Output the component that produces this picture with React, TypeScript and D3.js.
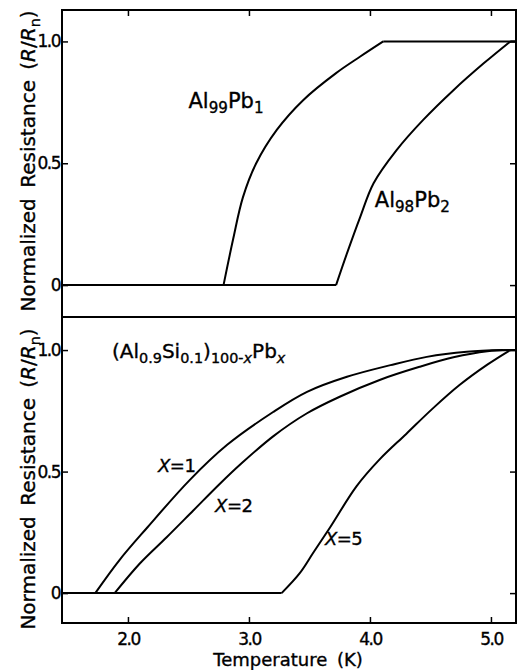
import React, { useEffect, useRef } from "react";
import * as d3 from "d3";

// frame extent in kelvin and tick values
const tempDomain = [1.455, 5.207];
const tempTicks = [2, 3, 4, 5];
const resTicks = [0, 0.5, 1];

// upper panel: Al99Pb1 and Al98Pb2
const al99Temp = [1.455, 2.79, 2.87, 2.95, 3.06, 3.23, 3.45, 3.72, 3.92, 4.11, 5.207];
const al99Res = [0, 0, 0.19, 0.36, 0.5, 0.637, 0.76, 0.87, 0.938, 1, 1];
const al98Temp = [1.455, 3.72, 3.81, 3.92, 4.03, 4.22, 4.44, 4.69, 4.94, 5.16, 5.207];
const al98Res = [0, 0, 0.13, 0.28, 0.418, 0.554, 0.678, 0.8, 0.91, 1, 1];

// lower panel: (Al0.9Si0.1)100-xPbx, x = 1, 2, 5
const x1Temp = [1.455, 1.73, 1.93, 2.16, 2.51, 2.82, 3.2, 3.48, 3.81, 4.17, 4.47, 4.8, 5.1, 5.207];
const x1Res = [0, 0, 0.136, 0.27, 0.465, 0.61, 0.745, 0.828, 0.89, 0.938, 0.972, 0.993, 1, 1];
const x2Temp = [1.455, 1.89, 2.1, 2.32, 2.54, 2.76, 2.93, 3.2, 3.48, 3.75, 4.08, 4.41, 4.69, 4.97, 5.15, 5.207];
const x2Res = [0, 0, 0.123, 0.23, 0.34, 0.45, 0.53, 0.645, 0.74, 0.808, 0.877, 0.931, 0.97, 0.995, 1, 1];
const x5Temp = [1.455, 3.27, 3.42, 3.53, 3.67, 3.89, 4.08, 4.3, 4.52, 4.74, 4.97, 5.16, 5.207];
const x5Res = [0, 0, 0.082, 0.165, 0.27, 0.44, 0.55, 0.655, 0.76, 0.856, 0.94, 1, 1];

type Part = { t: string; sub?: boolean; it?: boolean };

// label texts
const yTitle: Part[] = [{ t: "Normalized Resistance (" }, { t: "R", it: true }, { t: "/" }, { t: "R", it: true }, { t: "n", sub: true }, { t: ")" }];
const al99Label: Part[] = [{ t: "Al" }, { t: "99", sub: true }, { t: "Pb" }, { t: "1", sub: true }];
const al98Label: Part[] = [{ t: "Al" }, { t: "98", sub: true }, { t: "Pb" }, { t: "2", sub: true }];
const alloyLabel: Part[] = [{ t: "(Al" }, { t: "0.9", sub: true }, { t: "Si" }, { t: "0.1", sub: true }, { t: ")" }, { t: "100-", sub: true }, { t: "x", sub: true, it: true }, { t: "Pb" }, { t: "x", sub: true, it: true }];
const x1Label: Part[] = [{ t: "X", it: true }, { t: "=1" }];
const x2Label: Part[] = [{ t: "X", it: true }, { t: "=2" }];
const x5Label: Part[] = [{ t: "X", it: true }, { t: "=5" }];

const W = 517;
const H = 670;
const left = 62;
const right = 516;
const topY = 10;
const midY = 317;
const botY = 623;
const font = "'DejaVu Sans', sans-serif";
const ink = 0.35; // thin outline on text, the scan prints heavy

export default function App() {
  const ref = useRef<SVGSVGElement>(null);

  useEffect(() => {
    const svg = d3.select(ref.current);
    svg.selectAll("*").remove();

    const x = d3.scaleLinear().domain(tempDomain).range([left, right]);
    const yTop = d3.scaleLinear().domain([-0.131, 1.129]).range([midY, topY]);
    const yBot = d3.scaleLinear().domain([-0.123, 1.136]).range([botY, midY]);

    const fmtRes = (d: any) => (d === 0 ? "0" : d3.format(".1f")(d));

    // writes text with italic and subscript pieces
    const rich = (sel: any, parts: Part[], size: number) => {
      let down = false;
      parts.forEach((p) => {
        const ts = sel.append("tspan").text(p.t);
        if (p.it) ts.attr("font-style", "italic");
        if (p.sub) {
          ts.attr("font-size", size * 0.72);
          if (!down) ts.attr("dy", size * 0.25);
          down = true;
        } else if (down) {
          ts.attr("dy", -size * 0.25);
          down = false;
        }
      });
    };

    const label = (parts: Part[], px: number, py: number, size: number) => {
      const t = svg.append("text")
        .attr("x", px)
        .attr("y", py)
        .attr("font-family", font)
        .attr("font-size", size)
        .attr("fill", "#000")
        .attr("stroke", "#000")
        .attr("stroke-width", ink);
      rich(t, parts, size);
      return t;
    };

    // flat parts drawn straight, transition drawn smooth so onset stays sharp
    const curve = (y: any, temps: number[], res: number[]) => {
      const pts: [number, number][] = temps.map((t, i) => [t, res[i]]);
      const start = res.lastIndexOf(0);
      const end = res.indexOf(1);
      const straight = d3.line<[number, number]>().x((d) => x(d[0])).y((d) => y(d[1]));
      const smooth = d3.line<[number, number]>().x((d) => x(d[0])).y((d) => y(d[1])).curve(d3.curveCatmullRom.alpha(0.5));
      [
        straight(pts.slice(0, start + 1)),
        smooth(pts.slice(start, end + 1)),
        straight(pts.slice(end)),
      ].forEach((d) => {
        svg.append("path")
          .attr("d", d)
          .attr("fill", "none")
          .attr("stroke", "#000")
          .attr("stroke-width", 2)
          .attr("stroke-linejoin", "round");
      });
    };

    const styleAxis = (g: any) => {
      g.select(".domain").remove();
      g.selectAll("line").attr("stroke", "#000").attr("stroke-width", 1.5);
      g.selectAll("text")
        .attr("font-family", font)
        .attr("font-size", 17)
        .attr("letter-spacing", -1.5)
        .attr("fill", "#000")
        .attr("stroke", "#000")
        .attr("stroke-width", ink);
    };

    const panels = [
      { y: yTop, y0: topY, y1: midY, titleY: 161, series: [[al99Temp, al99Res], [al98Temp, al98Res]] },
      { y: yBot, y0: midY, y1: botY, titleY: 479, series: [[x1Temp, x1Res], [x2Temp, x2Res], [x5Temp, x5Res]] },
    ];

    panels.forEach((p) => {
      // left ticks with labels, right ticks bare
      svg.append("g")
        .attr("transform", `translate(${left},0)`)
        .call(d3.axisLeft(p.y).tickValues(resTicks).tickSize(-6).tickPadding(2).tickFormat(fmtRes))
        .call(styleAxis);
      svg.append("g")
        .attr("transform", `translate(${right},0)`)
        .call(d3.axisRight(p.y).tickValues(resTicks).tickSize(-6).tickFormat(() => ""))
        .call(styleAxis);

      p.series.forEach(([t, r]) => curve(p.y, t, r));

      svg.append("rect")
        .attr("x", left)
        .attr("y", p.y0)
        .attr("width", right - left)
        .attr("height", p.y1 - p.y0)
        .attr("fill", "none")
        .attr("stroke", "#000")
        .attr("stroke-width", 2);

      // rotated y title
      const yt = svg.append("text")
        .attr("transform", `translate(35,${p.titleY}) rotate(-90)`)
        .attr("text-anchor", "middle")
        .attr("font-family", font)
        .attr("font-size", 20)
        .attr("word-spacing", 4)
        .attr("fill", "#000")
        .attr("stroke", "#000")
        .attr("stroke-width", ink);
      rich(yt, yTitle, 20);
    });

    // x ticks: top of upper panel, bottom of lower panel with labels
    svg.append("g")
      .attr("transform", `translate(0,${topY})`)
      .call(d3.axisTop(x).tickValues(tempTicks).tickSize(-6).tickFormat(() => ""))
      .call(styleAxis);
    svg.append("g")
      .attr("transform", `translate(0,${botY})`)
      .call(d3.axisBottom(x).tickValues(tempTicks).tickSize(-6).tickPadding(10).tickFormat(d3.format(".1f")))
      .call(styleAxis);

    svg.append("text")
      .attr("x", 288)
      .attr("y", 666)
      .attr("text-anchor", "middle")
      .attr("font-family", font)
      .attr("font-size", 18)
      .attr("word-spacing", 4)
      .attr("fill", "#000")
      .attr("stroke", "#000")
      .attr("stroke-width", ink)
      .text("Temperature (K)");

    // curve annotations, placed in data coordinates
    label(al99Label, x(2.5), yTop(0.727), 21);
    label(al98Label, x(4.04), yTop(0.32), 21);
    label(alloyLabel, x(1.868), yBot(0.967), 20);
    label(x1Label, x(2.248), yBot(0.498), 18).attr("letter-spacing", -0.5);
    label(x2Label, x(2.72), yBot(0.333), 18).attr("letter-spacing", -0.5);
    label(x5Label, x(3.628), yBot(0.198), 18).attr("letter-spacing", -0.5);
  }, []);

  return (
    <svg
      ref={ref}
      width={W}
      height={H}
      style={{ position: "absolute", left: 0, top: 0, background: "#fff" }}
    />
  );
}
